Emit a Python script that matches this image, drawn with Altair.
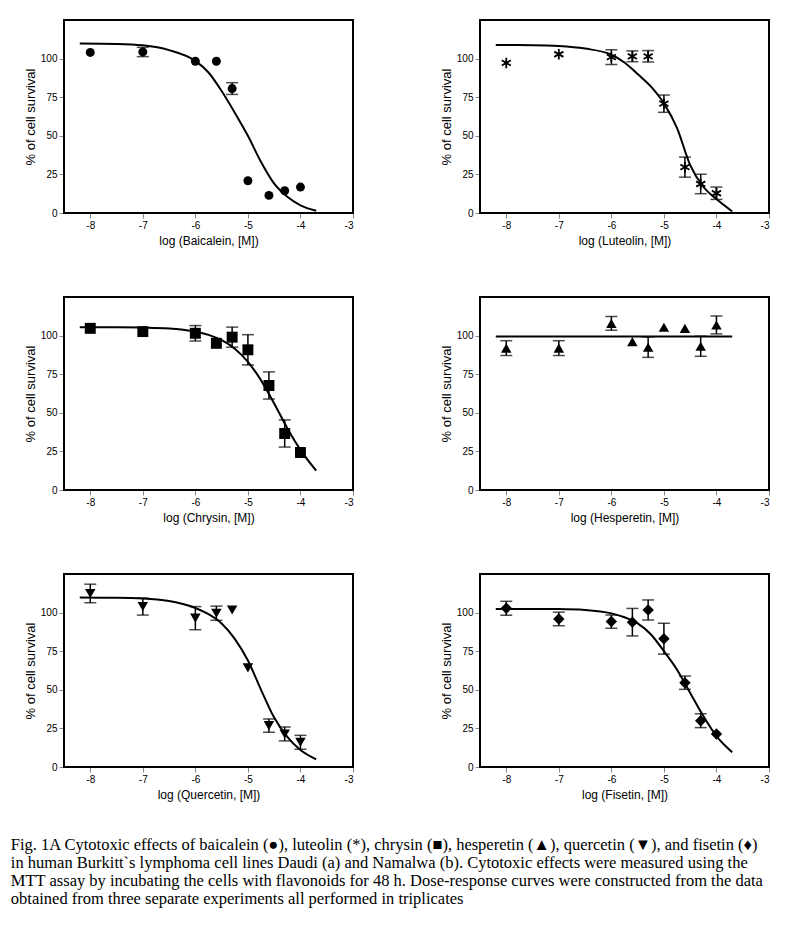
import altair as alt
import pandas as pd

# ---------------- data ----------------
DOSES = [-8, -7, -6, -5.6, -5.3, -5, -4.6, -4.3, -4]
CURVE_X = [-8.2, -7.5, -7.0, -6.5, -6.0, -5.75, -5.5, -5.25, -5.0, -4.75, -4.5, -4.25, -4.0, -3.7]

baicalein_y = [104, 104.3, 98.3, 98.3, 80.6, 20.9, 11.4, 14.4, 16.8]
baicalein_err = [0, 3, 0, 0, 3.8, 0, 0, 0, 0]
baicalein_curve = [109.8, 109.5, 108.6, 105.5, 98.5, 91, 79, 65, 50, 33, 19, 10.5, 5, 1.5]

luteolin_y = [97.2, 102.8, 101, 101.5, 101.5, 70.8, 29.7, 18.8, 12.8]
luteolin_err = [0, 0, 4.8, 3.5, 3.7, 5.6, 6.5, 6.3, 4]
luteolin_curve = [108.8, 108.7, 108.2, 106.5, 102.5, 97.5, 90, 82, 71, 55, 31, 17, 9, 1]

chrysin_y = [104.7, 102.6, 101.5, 95, 99, 90.8, 67.7, 36.6, 24.3]
chrysin_err = [0, 0, 5, 0, 6.5, 9.8, 8.8, 8.8, 0]
chrysin_curve = [105.4, 105.4, 105.2, 104.6, 102.5, 100.5, 97, 91.5, 83, 71, 56, 40, 26, 12.5]

hesperetin_y = [91.9, 91.9, 107.9, 96.1, 92.5, 105.4, 104.7, 93.1, 106.9]
hesperetin_err = [4.8, 4.8, 4.5, 0, 6.6, 0, 0, 6.5, 5.8]
hesperetin_curve_x = [-8.2, -3.7]
hesperetin_curve = [99.4, 99.4]

quercetin_y = [112.4, 103.9, 96.4, 99.6, 101.7, 64.2, 26.8, 21.4, 16]
quercetin_err = [6, 5.5, 7.5, 4.6, 0, 0, 4.3, 4.5, 4.5]
quercetin_curve = [109.7, 109.6, 109.2, 107.5, 103, 99, 93, 83, 69, 50, 32, 19.5, 11, 5]

fisetin_y = [102.8, 95.9, 94.2, 93.8, 101.7, 83.1, 54.6, 30, 21.4]
fisetin_err = [4.5, 4.4, 4.3, 8.9, 6.5, 10, 4.3, 4.5, 0]
fisetin_curve = [102.4, 102.4, 102.3, 101.7, 99.5, 97, 93, 86, 75, 63, 48, 33, 20, 9.6]

X_TICKS = [-8, -7, -6, -5, -4, -3]
Y_TICKS = [0, 25, 50, 75, 100]

CAPTION = [
    "Fig. 1A Cytotoxic effects of baicalein (\u25cf), luteolin (*), chrysin (\u25a0), hesperetin (\u25b2), quercetin (\u25bc), and fisetin (\u2666)",
    "in human Burkitt`s lymphoma cell lines Daudi (a) and Namalwa (b). Cytotoxic effects were measured using the",
    "MTT assay by incubating the cells with flavonoids for 48 h. Dose-response curves were constructed from the data",
    "obtained from three separate experiments all performed in triplicates",
]

ASTERISK = "M0,-1L0,1M-0.87,-0.5L0.87,0.5M-0.87,0.5L0.87,-0.5"

PANELS = [
    ("Baicalein", baicalein_y, baicalein_err, CURVE_X, baicalein_curve, "circle", 80, True),
    ("Luteolin", luteolin_y, luteolin_err, CURVE_X, luteolin_curve, ASTERISK, 110, False),
    ("Chrysin", chrysin_y, chrysin_err, CURVE_X, chrysin_curve, "square", 120, True),
    ("Hesperetin", hesperetin_y, hesperetin_err, hesperetin_curve_x, hesperetin_curve, "triangle-up", 110, True),
    ("Quercetin", quercetin_y, quercetin_err, CURVE_X, quercetin_curve, "triangle-down", 110, True),
    ("Fisetin", fisetin_y, fisetin_err, CURVE_X, fisetin_curve, "diamond", 130, True),
]

W, H = 289, 193


def panel(name, ys, errs, cx, cy, shape, size, filled):
    pts = pd.DataFrame({"x": DOSES, "y": ys, "err": errs})
    pts["lo"] = pts["y"] - pts["err"]
    pts["hi"] = pts["y"] + pts["err"]
    cur = pd.DataFrame({"x": cx, "y": cy})

    xscale = alt.Scale(domain=[-8.5, -3], nice=False, zero=False)
    yscale = alt.Scale(domain=[0, 125], nice=False)
    xaxis = alt.Axis(values=X_TICKS, title=f"log ({name}, [M])", labelExpr="'' + datum.value",
                     grid=False, titleFontWeight="normal", titleFontSize=12, titlePadding=5)
    yaxis = alt.Axis(values=Y_TICKS, title="% of cell survival", grid=False,
                     titleFontWeight="normal", titleFontSize=13, titlePadding=3)

    x = alt.X("x:Q", scale=xscale, axis=xaxis)
    y = alt.Y("y:Q", scale=yscale, axis=yaxis)

    frame = alt.Chart(cur).mark_rect(filled=False, stroke="black", strokeWidth=2, fillOpacity=0).encode(
        x=alt.value(0), x2=alt.value(W), y=alt.value(0), y2=alt.value(H))

    curve = alt.Chart(cur).mark_line(color="black", strokeWidth=2, interpolate="monotone").encode(x=x, y=y)

    eb = alt.Chart(pts).transform_filter("datum.err > 0")
    rule = eb.mark_rule(color="black", strokeWidth=1.5).encode(
        x=alt.X("x:Q", scale=xscale), y=alt.Y("lo:Q", scale=yscale), y2="hi:Q")
    cap_hi = eb.mark_tick(color="black", thickness=1.5, size=12, orient="horizontal").encode(
        x=alt.X("x:Q", scale=xscale), y=alt.Y("hi:Q", scale=yscale))
    cap_lo = eb.mark_tick(color="black", thickness=1.5, size=12, orient="horizontal").encode(
        x=alt.X("x:Q", scale=xscale), y=alt.Y("lo:Q", scale=yscale))

    if filled:
        marks = alt.Chart(pts).mark_point(shape=shape, size=size, filled=True, color="black", opacity=1).encode(
            x=alt.X("x:Q", scale=xscale), y=alt.Y("y:Q", scale=yscale))
        layers = [curve, rule, cap_hi, cap_lo, marks, frame]
    else:
        marks = alt.Chart(pts).mark_point(shape=shape, size=size, filled=False, color="black",
                                          strokeWidth=1.8, opacity=1).encode(
            x=alt.X("x:Q", scale=xscale), y=alt.Y("y:Q", scale=yscale))
        dots = alt.Chart(pts).mark_point(shape="circle", size=12, filled=True, color="black", opacity=1).encode(
            x=alt.X("x:Q", scale=xscale), y=alt.Y("y:Q", scale=yscale))
        layers = [curve, rule, cap_hi, cap_lo, marks, dots, frame]

    return alt.layer(*layers).properties(width=W, height=H)


charts = [panel(*p) for p in PANELS]

rows = [alt.hconcat(charts[i], charts[i + 1], spacing=84) for i in (0, 2, 4)]

chart = alt.vconcat(*rows, spacing=48).properties(
    padding={"left": 2, "top": 10, "right": 5, "bottom": 5},
    title=alt.TitleParams(
        text=CAPTION, orient="bottom", anchor="start", font="Liberation Serif",
        fontSize=16.5, fontWeight="normal", lineHeight=18.3, offset=36, dx=-13, color="black",
    ),
).configure_view(
    stroke="transparent"
).configure_axis(
    domainColor="black", domainWidth=2, tickColor="black", tickWidth=1.5, tickSize=3,
    labelFont="Liberation Sans", labelFontSize=9, labelFontWeight="bold", labelColor="#333",
    labelPadding=2,
    titleFont="Liberation Sans", titleColor="#333",
).configure(background="white")

chart.save("out.html", embed_options={"renderer": "svg", "actions": False})
